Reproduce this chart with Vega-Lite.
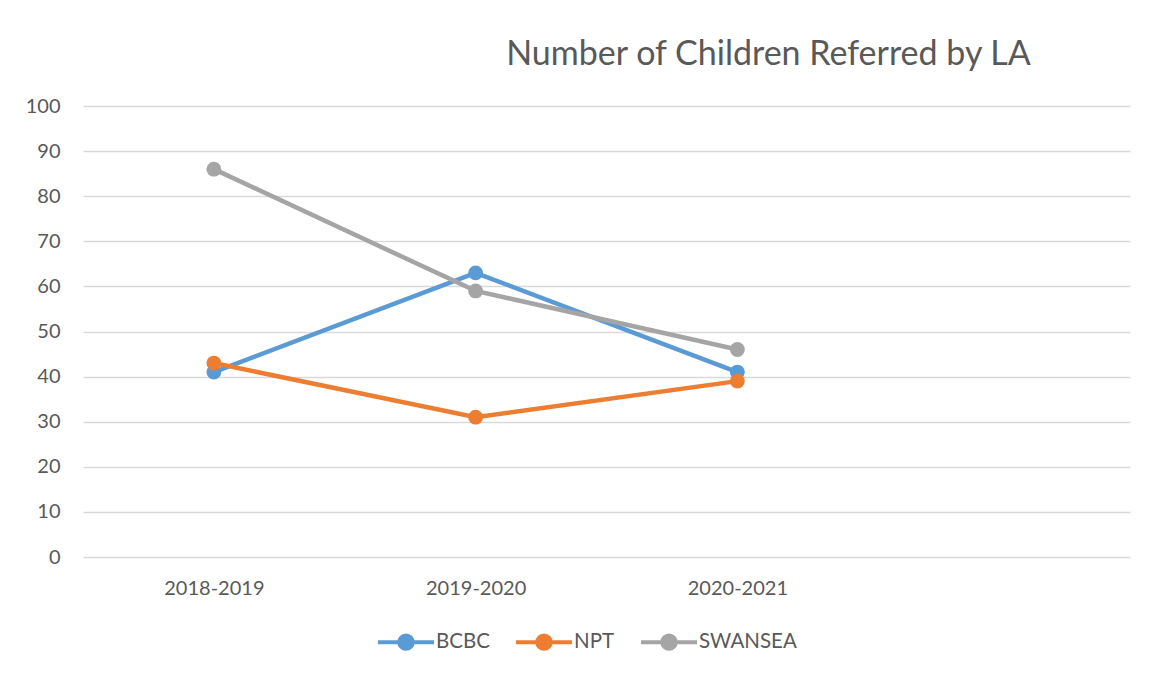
{
  "$schema": "https://vega.github.io/schema/vega-lite/v6.json",
  "autosize": "none",
  "width": 1047,
  "height": 451,
  "padding": {"left": 83, "top": 106, "right": 22, "bottom": 116},
  "background": "white",
  "config": {
    "view": {"stroke": null},
    "font": "Lato"
  },
  "title": {
    "text": "Number of Children Referred by LA",
    "font": "Lato",
    "fontSize": 34,
    "fontWeight": "normal",
    "color": "#595959",
    "anchor": "middle",
    "dx": 162,
    "offset": 24
  },
  "data": {
    "values": [
      {"year": "2018-2019", "la": "BCBC", "count": 41},
      {"year": "2019-2020", "la": "BCBC", "count": 63},
      {"year": "2020-2021", "la": "BCBC", "count": 41},
      {"year": "2018-2019", "la": "NPT", "count": 43},
      {"year": "2019-2020", "la": "NPT", "count": 31},
      {"year": "2020-2021", "la": "NPT", "count": 39},
      {"year": "2018-2019", "la": "SWANSEA", "count": 86},
      {"year": "2019-2020", "la": "SWANSEA", "count": 59},
      {"year": "2020-2021", "la": "SWANSEA", "count": 46}
    ]
  },
  "encoding": {
    "x": {
      "field": "year",
      "type": "ordinal",
      "sort": null,
      "scale": {"type": "point", "domain": ["2018-2019", "2019-2020", "2020-2021", ""], "padding": 0.5},
      "axis": {
        "title": null,
        "labelAngle": 0,
        "labelFontSize": 20,
        "labelColor": "#595959",
        "labelPadding": 21,
        "ticks": false,
        "domain": false,
        "grid": false
      }
    },
    "y": {
      "field": "count",
      "type": "quantitative",
      "scale": {"domain": [0, 100], "nice": false},
      "axis": {
        "title": null,
        "values": [0, 10, 20, 30, 40, 50, 60, 70, 80, 90, 100],
        "labelFontSize": 20,
        "labelColor": "#595959",
        "labelPadding": 23,
        "ticks": false,
        "domain": false,
        "grid": true,
        "gridColor": "#D9D9D9",
        "gridWidth": 1.5
      }
    },
    "color": {
      "field": "la",
      "type": "nominal",
      "scale": {"domain": ["BCBC", "NPT", "SWANSEA"], "range": ["#5B9BD5", "#ED7D31", "#A5A5A5"]},
      "legend": {
        "title": null,
        "orient": "none",
        "direction": "horizontal",
        "legendX": 293,
        "legendY": 506,
        "symbolType": "M-1,0H1M0.24,0A0.24,0.24,0,1,1,-0.24,0A0.24,0.24,0,1,1,0.24,0Z",
        "symbolSize": 3136,
        "symbolStrokeWidth": 4,
        "labelFontSize": 20.5,
        "labelColor": "#595959",
        "labelOffset": 0,
        "columnPadding": 18,
        "encode": {
          "symbols": {
            "update": {
              "fill": {"field": "value", "scale": "color"},
              "stroke": {"field": "value", "scale": "color"},
              "strokeWidth": {"value": 4},
              "opacity": {"value": 1}
            }
          }
        }
      }
    }
  },
  "layer": [
    {"mark": {"type": "line", "strokeWidth": 4.5}},
    {"mark": {"type": "point", "filled": true, "size": 220, "opacity": 1}}
  ]
}
